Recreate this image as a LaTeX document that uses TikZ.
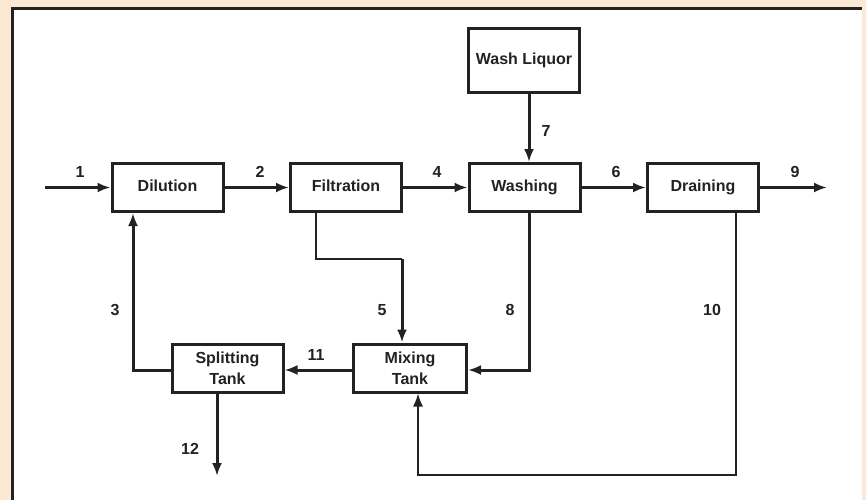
\documentclass[tikz,border=0pt]{standalone}
\usepackage{fontspec}
\setmainfont{Liberation Sans}
\usetikzlibrary{arrows.meta}
\definecolor{peach}{HTML}{FCE9D3}
\definecolor{ink}{HTML}{222222}
\begin{document}
\begin{tikzpicture}[x=1pt,y=-1pt,
  box/.style={draw=ink,line width=3pt,fill=white,minimum width=111pt,minimum height=48pt,inner sep=0pt,
    font=\fontsize{16}{21}\selectfont\bfseries,text=ink,align=center},
  one/.style={text height=11.5pt,text depth=3.5pt},
  arr/.style={draw=ink,line width=3pt,-{Latex[length=13pt,width=10pt]}},
  thinarr/.style={draw=ink,line width=1.6pt,-{Latex[length=13pt,width=10pt]}},
  lbl/.style={font=\fontsize{16}{18}\selectfont\bfseries,text=ink,inner sep=0pt}]
\useasboundingbox (0,0) rectangle (866,500);
\fill[peach] (0,0) rectangle (866,500);
\fill[white] (12,9) rectangle (862,500);
\draw[ink,line width=3pt] (12,500) -- (12,9) -- (862,9);
% boxes
\node[box,one] (dil) at (167.5,187.5) {Dilution};
\node[box,one] (fil) at (346,187.5) {Filtration};
\node[box,one] (was) at (524.5,187.5) {Washing};
\node[box,one,minimum height=64pt] (wl) at (524,61) {Wash Liquor};
\node[box,one] (dra) at (703,187.5) {Draining};
\node[box] (spl) at (227.5,368) {Splitting\\Tank};
\node[box,minimum width=113pt] (mix) at (410,368) {Mixing\\Tank};
% coordinates
\coordinate (in1) at (45,187.5);
\coordinate (out9) at (827,187.5);
\coordinate (c5a) at (316,259);
\coordinate (c5b) at (402,259);
\coordinate (c8) at (529,370);
\coordinate (c10a) at (736,475);
\coordinate (c10b) at (418,475);
\coordinate (c3) at (133,370);
\coordinate (out12) at (217,476);
% connectors
\draw[arr] (in1) -- (dil.west);
\draw[arr] (dil.east) -- (fil.west);
\draw[arr] (fil.east) -- (was.west);
\draw[arr] (was.east) -- (dra.west);
\draw[arr] (dra.east) -- (out9);
\draw[arr] (wl.south -| 529,0) -- (was.north -| 529,0);
\draw[ink,line width=2pt] (fil.south -| c5a) -- (c5a) -- (c5b);
\draw[arr] (c5b) -- (mix.north -| c5b);
\draw[arr] (was.south -| c8) -- (c8) -- (mix.east |- c8);
\draw[thinarr] (dra.south -| c10a) -- (c10a) -- (c10b) -- (mix.south -| c10b);
\draw[arr] (mix.west |- c8) -- (spl.east |- c8);
\draw[arr] (spl.west |- c3) -- (c3) -- (dil.south -| c3);
\draw[arr] (spl.south -| out12) -- (out12);
% labels
\node[lbl] (l1) at (80,172) {1};
\node[lbl] (l2) at (260,172) {2};
\node[lbl] (l4) at (437,172) {4};
\node[lbl] (l6) at (616,172) {6};
\node[lbl] (l9) at (795,172) {9};
\node[lbl] (l7) at (546,131) {7};
\node[lbl] (l3) at (115,310) {3};
\node[lbl] (l5) at (382,310) {5};
\node[lbl] (l8) at (510,310) {8};
\node[lbl] (l10) at (712,310) {10};
\node[lbl] (l11) at (316,355) {11};
\node[lbl] (l12) at (190,449) {12};
\end{tikzpicture}
\end{document}
